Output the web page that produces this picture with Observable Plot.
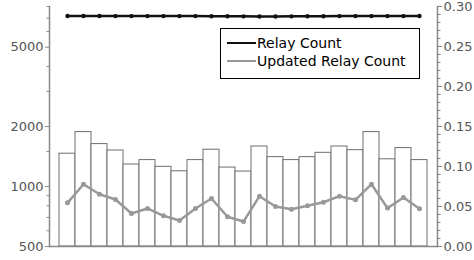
<!DOCTYPE html>
<html>
<head>
<meta charset="utf-8">
<script src="https://cdn.jsdelivr.net/npm/d3@7"></script>
<script src="https://cdn.jsdelivr.net/npm/@observablehq/plot@0.6"></script>
<style>
  body { margin: 0; background: #fff; }
  #wrap { position: relative; width: 474px; height: 260px; font-family: "DejaVu Sans", sans-serif; }
  #legend { position: absolute; left: 220px; top: 28px; width: 200px; height: 51px; border: 1.5px solid #000; background: #fff; box-sizing: border-box; font-size: 14px; color: #000; }
  .row { position: absolute; left: 6px; display: flex; align-items: center; }
  .sw { width: 29px; height: 0; border-top-width: 2.5px; border-top-style: solid; margin-right: 1px; }
</style>
</head>
<body>
<div id="wrap">
  <div id="chart"></div>
  <div id="legend">
    <div class="row" style="top:6px"><span class="sw" style="border-top-color:#111"></span><span>Relay Count</span></div>
    <div class="row" style="top:24px"><span class="sw" style="border-top-color:#999"></span><span>Updated Relay Count</span></div>
  </div>
</div>
<script>
// Data (23 periods)
const periods = d3.range(23);
const relayCount = [7170, 7170, 7170, 7160, 7160, 7160, 7160, 7160, 7160, 7150, 7150, 7140, 7130, 7130, 7140, 7150, 7150, 7160, 7160, 7160, 7160, 7160, 7170];
const updatedRelayCount = [828, 1027, 915, 861, 732, 776, 713, 675, 776, 871, 705, 667, 894, 794, 769, 800, 834, 894, 857, 1027, 779, 880, 773];
const fraction = [0.116, 0.143, 0.128, 0.120, 0.1025, 0.108, 0.0996, 0.094, 0.108, 0.121, 0.0987, 0.0937, 0.125, 0.1117, 0.108, 0.1117, 0.1171, 0.125, 0.1204, 0.143, 0.109, 0.123, 0.108];

const leftMajor = [500, 1000, 2000, 5000];
const leftMinor = [600, 700, 800, 900, 1500, 3000, 4000, 6000, 7000, 8000];
const rightMajor = [0, 0.05, 0.10, 0.15, 0.20, 0.25, 0.30];
const rightMinor = d3.range(0, 31).map(d => d / 100);

// left log axis [500, 8000] shares the plot height with right axis [0, 0.3]
const LMIN = 500, LMAX = 8000, RMAX = 0.3;
const toY = v => RMAX * Math.log(v / LMIN) / Math.log(LMAX / LMIN);
const fromY = y => LMIN * Math.pow(LMAX / LMIN, y / RMAX);

const rows = periods.map(i => ({
  i,
  frac: fraction[i],
  relay: toY(relayCount[i]),
  updated: toY(updatedRelayCount[i])
}));

const axisColor = "#888";
const labelColor = "#555";

const plot = Plot.plot({
  width: 474,
  height: 260,
  marginLeft: 49,
  marginRight: 37,
  marginTop: 6,
  marginBottom: 14,
  style: { fontFamily: "DejaVu Sans, sans-serif", fontSize: "13px", color: labelColor, background: "#fff" },
  x: { type: "band", domain: periods, padding: 0, axis: null },
  y: { type: "linear", domain: [0, RMAX], axis: null },
  marks: [
    Plot.barY(rows, { x: "i", y: "frac", fill: "#fff", stroke: "#6e6e6e", strokeWidth: 1, inset: 0 }),
    Plot.line(rows, { x: "i", y: "updated", stroke: "#999", strokeWidth: 2.5 }),
    Plot.dot(rows, { x: "i", y: "updated", fill: "#999", r: 2.5 }),
    Plot.line(rows, { x: "i", y: "relay", stroke: "#111", strokeWidth: 2.5 }),
    Plot.dot(rows, { x: "i", y: "relay", fill: "#111", r: 2.2 }),
    Plot.frame({ anchor: "left", stroke: axisColor, strokeWidth: 1.5 }),
    Plot.frame({ anchor: "right", stroke: axisColor, strokeWidth: 1.5 }),
    Plot.frame({ anchor: "bottom", stroke: axisColor, strokeWidth: 1.5 }),
    Plot.axisY(leftMajor.map(toY), { anchor: "left", tickSize: 4, tickPadding: 2, stroke: axisColor, fill: labelColor, tickFormat: d => String(Math.round(fromY(d))) }),
    Plot.axisY(leftMinor.map(toY), { anchor: "left", tickSize: 2.5, stroke: axisColor, tickFormat: () => "" }),
    Plot.axisY(rightMajor, { anchor: "right", tickSize: 4, tickPadding: 2, stroke: axisColor, fill: labelColor, tickFormat: d3.format(".2f") }),
    Plot.axisY(rightMinor, { anchor: "right", tickSize: 2.5, stroke: axisColor, tickFormat: () => "" })
  ]
});
document.getElementById("chart").appendChild(plot);
</script>
</body>
</html>
